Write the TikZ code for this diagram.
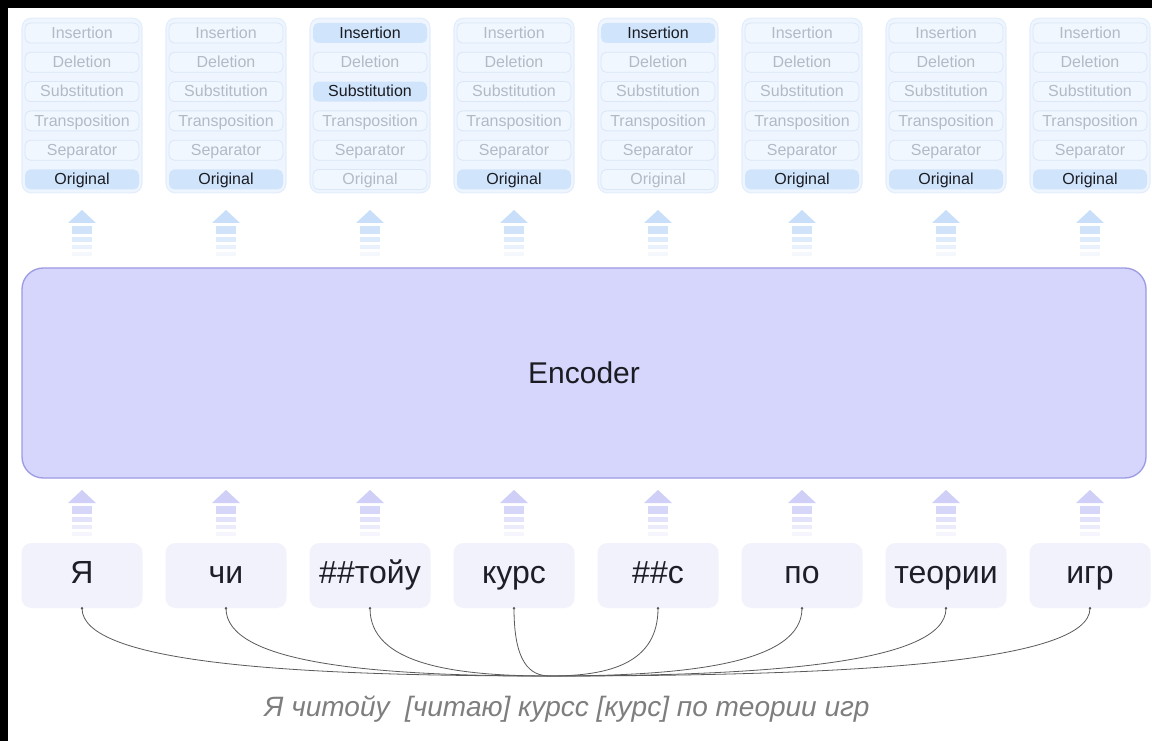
\documentclass[tikz,border=0pt]{standalone}
\usepackage{fontspec}
\setmainfont{Liberation Sans}
\usetikzlibrary{calc}

\definecolor{colfill}{HTML}{EEF5FE}
\definecolor{colline}{HTML}{E3EEFB}
\definecolor{offfill}{HTML}{F1F7FE}
\definecolor{offline}{HTML}{DAE7F8}
\definecolor{offtext}{HTML}{B2BAC6}
\definecolor{onfill}{HTML}{D0E5FB}
\definecolor{ontext}{HTML}{1B1B22}
\definecolor{toparrow}{HTML}{C9DFF9}
\definecolor{encfill}{HTML}{D6D6FC}
\definecolor{encline}{HTML}{9D9BE3}
\definecolor{botarrow}{HTML}{CFCFF8}
\definecolor{tokfill}{HTML}{F2F2FD}
\definecolor{toktext}{HTML}{1E1E26}
\definecolor{linkcol}{HTML}{5A5A5A}
\definecolor{senttext}{HTML}{7E7E7E}

% stacked "flow" arrow: head plus fading bars, apex at (#1,#2)
\newcommand\flowarrow[3]{%
  \fill[#3] (#1-14,#2+13) -- (#1,#2) -- (#1+14,#2+13) -- cycle;
  \fill[#3, opacity=.85] (#1-10,#2+16) rectangle (#1+10,#2+24);
  \fill[#3, opacity=.6] (#1-10,#2+27) rectangle (#1+10,#2+32);
  \fill[#3, opacity=.4] (#1-10,#2+35) rectangle (#1+10,#2+39);
  \fill[#3, opacity=.2] (#1-10,#2+42) rectangle (#1+10,#2+46);
}

\begin{document}
\begin{tikzpicture}[x=0.75pt,y=-0.75pt,
  colbox/.style={draw=colline, line width=0.8pt, fill=colfill, rounded corners=7pt,
    minimum width=90pt, minimum height=131pt, inner sep=0pt},
  itembase/.style={rounded corners=4pt, minimum width=85.5pt, minimum height=15pt,
    inner sep=0pt, text height=8.6pt, text depth=0.6pt,
    font=\fontsize{12}{14}\selectfont},
  item0/.style={itembase, draw=offline, line width=0.6pt, fill=offfill, text=offtext},
  item1/.style={itembase, fill=onfill, text=ontext},
  encoder/.style={draw=encline, line width=1pt, fill=encfill, rounded corners=16pt,
    minimum width=843pt, minimum height=157.5pt, inner sep=0pt, text=ontext,
    font=\fontsize{22.5}{26}\selectfont},
  token/.style={fill=tokfill, rounded corners=7.5pt, minimum width=90.75pt,
    minimum height=48.75pt, inner sep=0pt, text=toktext,
    text height=17.2pt, text depth=5pt,
    font=\fontsize{24}{28}\selectfont},
  link/.style={draw=linkcol, line width=0.6pt},
  sentence/.style={text=senttext, font=\fontsize{21}{25}\selectfont\itshape}]

% frame
\fill[black] (0,0) rectangle (1152,741);
\fill[white] (8,8) rectangle (1152,741);
\useasboundingbox (0,0) rectangle (1152,741);

% output label columns
\foreach \i/\a/\b/\c/\d/\e/\f [evaluate=\i as \cx using 82+144*(\i-1)] in
  {1/0/0/0/0/0/1, 2/0/0/0/0/0/1, 3/1/0/1/0/0/0, 4/0/0/0/0/0/1,
   5/1/0/0/0/0/0, 6/0/0/0/0/0/1, 7/0/0/0/0/0/1, 8/0/0/0/0/0/1} {
  \node[colbox] (col\i) at (\cx,105.5) {};
  \node[item\a] (ins\i) at (\cx,33) {Insertion};
  \node[item\b] (del\i) at (\cx,62.3) {Deletion};
  \node[item\c] (sub\i) at (\cx,91.6) {Substitution};
  \node[item\d] (tra\i) at (\cx,120.9) {Transposition};
  \node[item\e] (sep\i) at (\cx,150.2) {Separator};
  \node[item\f] (ori\i) at (\cx,179.5) {Original};
  \flowarrow{\cx}{210}{toparrow}
  \flowarrow{\cx}{490}{botarrow}
}

% encoder block
\node[encoder] (enc) at (584,373) {Encoder};

% input tokens
\foreach \i/\t [evaluate=\i as \cx using 82+144*(\i-1)] in
  {1/Я, 2/чи, 3/\#\#тойу, 4/курс, 5/\#\#с, 6/по, 7/теории, 8/игр} {
  \node[token] (tok\i) at (\cx,575.5) {\t};
}

% links from every token to the source sentence
\coordinate (hub) at (550,676);
\foreach \i in {1,...,8} {
  \draw[link] (tok\i.south) .. controls +(0,55) and ($(hub)!0.55!(tok\i.south |- hub)$) .. (hub);
  \fill[linkcol] (tok\i.south) circle (1pt);
}

\node[sentence] (sent) at (567,709) {Я читойу\ \ [читаю] курсс [курс] по теории игр};

\end{tikzpicture}
\end{document}
